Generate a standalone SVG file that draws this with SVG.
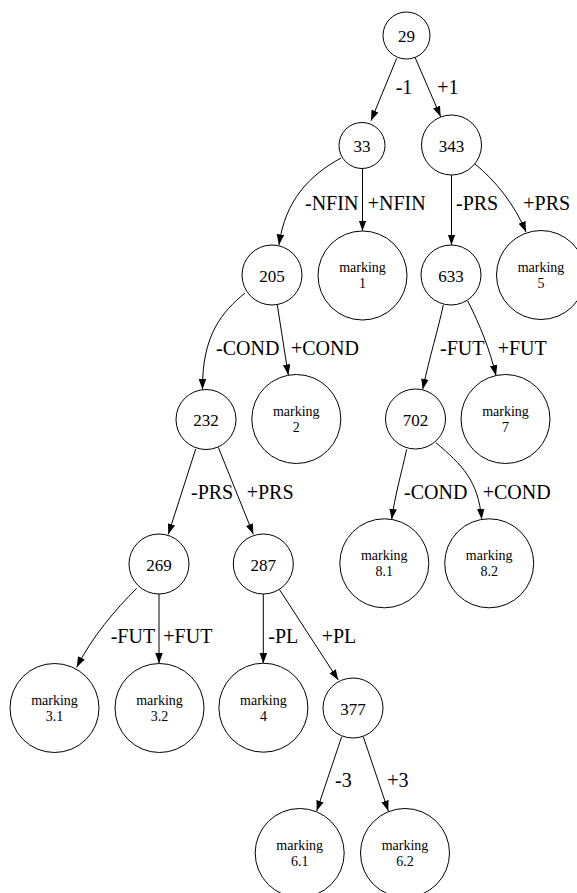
<svg xmlns="http://www.w3.org/2000/svg" width="577" height="893" viewBox="0 0 577 893" font-family="'Liberation Serif', 'Times New Roman', Times, serif">
<style>
  .n circle { fill: #fff; stroke: #000; stroke-width: 1; }
  .num { font-size: 17px; text-anchor: middle; fill: #000; }
  .mk { font-size: 14px; text-anchor: middle; fill: #000; }
  .e path { fill: none; stroke: #000; stroke-width: 1; marker-end: url(#ah); }
  .lbl { font-size: 20px; fill: #000; }
</style>
<defs>
  <marker id="ah" markerUnits="userSpaceOnUse" markerWidth="11" markerHeight="8" refX="10.5" refY="3.75" orient="auto">
    <path d="M0,0 L10.5,3.75 L0,7.5 z" fill="#000"/>
  </marker>
</defs>
<rect width="577" height="893" fill="#fff"/>
<g id="connectors" class="e">
  <path d="M396.7,58.3 L371,120.7"/>
  <path d="M415,57.3 L440.7,116.7"/>
  <path d="M341,158 C310,175 285,200 279,245"/>
  <path d="M362.5,168.5 L362.5,231"/>
  <path d="M451.5,175 L451.5,245"/>
  <path d="M475,164 C495,180 515,205 526,232"/>
  <path d="M245,293 C222,312 202,335 202.5,389.5"/>
  <path d="M277.3,305 L288.3,375"/>
  <path d="M443.3,305 C438,330 430,355 422.7,389.3"/>
  <path d="M467.7,301 C480,325 490,350 496,375.7"/>
  <path d="M406.7,449.3 C401,475 395,495 391.7,519.3"/>
  <path d="M436,442.7 C462,465 478,480 481.7,519.3"/>
  <path d="M195.7,449 L168.3,534.3"/>
  <path d="M218.3,447.3 L253.3,534.3"/>
  <path d="M136.7,588.3 C115,610 92,637 76.7,667.3"/>
  <path d="M159,594 L159,663.5"/>
  <path d="M263.3,594 L263.3,663.5"/>
  <path d="M279.3,589.3 L338.3,680"/>
  <path d="M341.7,736.7 L316.7,811"/>
  <path d="M363.3,736.7 L388.3,811"/>
</g>
<g id="edge-labels" font-family="'Liberation Serif', 'Times New Roman', Times, serif">
  <text class="lbl" x="395.7" y="94.3">-1</text>
  <text class="lbl" x="437.3" y="94.3">+1</text>
  <text class="lbl" x="305" y="210">-NFIN</text>
  <text class="lbl" x="367.7" y="210">+NFIN</text>
  <text class="lbl" x="456" y="210">-PRS</text>
  <text class="lbl" x="523.3" y="210">+PRS</text>
  <text class="lbl" x="216" y="355">-COND</text>
  <text class="lbl" x="291" y="355">+COND</text>
  <text class="lbl" x="440" y="355">-FUT</text>
  <text class="lbl" x="497.7" y="355">+FUT</text>
  <text class="lbl" x="404" y="499">-COND</text>
  <text class="lbl" x="482.7" y="499">+COND</text>
  <text class="lbl" x="191" y="499.3">-PRS</text>
  <text class="lbl" x="246.7" y="499.3">+PRS</text>
  <text class="lbl" x="110.7" y="642.7">-FUT</text>
  <text class="lbl" x="163.3" y="642.7">+FUT</text>
  <text class="lbl" x="268.3" y="642.7">-PL</text>
  <text class="lbl" x="321.7" y="642.7">+PL</text>
  <text class="lbl" x="335" y="786.7">-3</text>
  <text class="lbl" x="387.3" y="786.7">+3</text>
</g>
<g id="nodes" font-family="'Liberation Serif', 'Times New Roman', Times, serif">
<g id="n29" class="n"><circle cx="406.5" cy="35.5" r="23.5"/><text class="num" x="406.5" y="42">29</text></g>
<g id="n33" class="n"><circle cx="362" cy="145.5" r="23"/><text class="num" x="362" y="152">33</text></g>
<g id="n343" class="n"><circle cx="451.5" cy="145" r="30"/><text class="num" x="451.5" y="151.5">343</text></g>
<g id="n205" class="n"><circle cx="272" cy="275" r="30"/><text class="num" x="272" y="281.5">205</text></g>
<g id="m1" class="n"><circle cx="362.5" cy="275.5" r="44.5"/><text class="mk" x="362.5" y="272">marking</text><text class="mk" x="362.5" y="288">1</text></g>
<g id="n633" class="n"><circle cx="451" cy="275" r="30"/><text class="num" x="451" y="281.5">633</text></g>
<g id="m5" class="n"><circle cx="541" cy="275" r="44.5"/><text class="mk" x="541" y="272">marking</text><text class="mk" x="541" y="288">5</text></g>
<g id="n232" class="n"><circle cx="206" cy="419.5" r="30"/><text class="num" x="206" y="426">232</text></g>
<g id="m2" class="n"><circle cx="296.3" cy="419" r="44.5"/><text class="mk" x="296.3" y="415.5">marking</text><text class="mk" x="296.3" y="431.5">2</text></g>
<g id="n702" class="n"><circle cx="415.5" cy="419" r="30"/><text class="num" x="415.5" y="425.5">702</text></g>
<g id="m7" class="n"><circle cx="505.5" cy="419" r="44.5"/><text class="mk" x="505.5" y="415.5">marking</text><text class="mk" x="505.5" y="431.5">7</text></g>
<g id="n269" class="n"><circle cx="159" cy="564" r="30"/><text class="num" x="159" y="570.5">269</text></g>
<g id="n287" class="n"><circle cx="263.3" cy="564" r="30"/><text class="num" x="263.3" y="570.5">287</text></g>
<g id="m81" class="n"><circle cx="384.3" cy="563.3" r="44.5"/><text class="mk" x="384.3" y="560">marking</text><text class="mk" x="384.3" y="576">8.1</text></g>
<g id="m82" class="n"><circle cx="489.2" cy="563.3" r="44.5"/><text class="mk" x="489.2" y="560">marking</text><text class="mk" x="489.2" y="576">8.2</text></g>
<g id="m31" class="n"><circle cx="54.5" cy="708" r="44.5"/><text class="mk" x="54.5" y="704.5">marking</text><text class="mk" x="54.5" y="720.5">3.1</text></g>
<g id="m32" class="n"><circle cx="159.5" cy="708" r="44.5"/><text class="mk" x="159.5" y="704.5">marking</text><text class="mk" x="159.5" y="720.5">3.2</text></g>
<g id="m4" class="n"><circle cx="263.4" cy="707.7" r="44.5"/><text class="mk" x="263.4" y="704.5">marking</text><text class="mk" x="263.4" y="720.5">4</text></g>
<g id="n377" class="n"><circle cx="353" cy="708" r="30"/><text class="num" x="353" y="714.5">377</text></g>
<g id="m61" class="n"><circle cx="299.7" cy="853" r="44.5"/><text class="mk" x="299.7" y="849.5">marking</text><text class="mk" x="299.7" y="865.5">6.1</text></g>
<g id="m62" class="n"><circle cx="405" cy="853" r="44.5"/><text class="mk" x="405" y="849.5">marking</text><text class="mk" x="405" y="865.5">6.2</text></g>
</g>
</svg>
